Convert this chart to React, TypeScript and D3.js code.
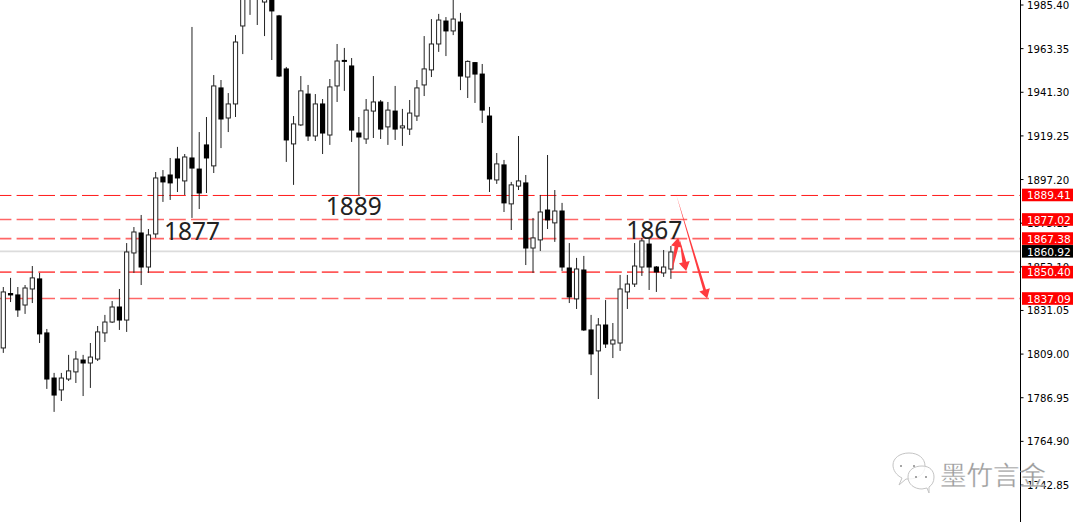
import React from "react";
import * as d3 from "d3";

const opens = [1812.1,1839.6,1838.9,1833.8,1841.9,1847.0,1819.7,1796.9,1790.9,1796.4,1800.0,1806.0,1804.5,1806.5,1819.7,1825.2,1832.8,1826.2,1860.1,1870.2,1853.0,1869.7,1898.5,1899.5,1907.6,1896.5,1908.1,1902.5,1914.7,1904.1,1943.5,1928.3,1935.4,1974.8,1989.4,1990.0,1986.9,1993.0,1979.9,1953.1,1915.2,1924.8,1940.4,1919.2,1935.4,1919.7,1944.5,1957.4,1954.6,1920.7,1917.7,1931.8,1936.4,1923.8,1931.8,1923.3,1922.7,1929.3,1945.0,1952.6,1965.7,1977.3,1972.3,1976.8,1949.0,1956.3,1950.5,1929.3,1897.0,1904.6,1884.9,1893.9,1895.5,1862.6,1866.7,1881.8,1875.3,1881.3,1852.5,1836.9,1851.5,1821.2,1810.6,1823.7,1814.1,1814.6,1840.4,1844.4,1853.0,1864.6,1853.0,1850.0,1852.0];
const highs = [1842.9,1847.5,1842.9,1843.9,1853.5,1850.0,1821.7,1799.5,1799.5,1808.6,1810.6,1808.6,1814.6,1823.2,1828.8,1835.8,1841.9,1865.1,1873.2,1879.3,1872.2,1901.0,1902.0,1908.1,1913.7,1910.1,1974.3,1921.2,1928.8,1950.0,1947.5,1940.9,1970.2,1992.0,2001.0,2003.0,1994.0,1995.0,1980.4,1954.1,1929.3,1949.5,1945.0,1940.4,1937.9,1948.0,1965.7,1963.7,1958.6,1928.8,1937.9,1949.5,1937.4,1936.4,1944.5,1932.9,1937.4,1947.5,1969.7,1978.3,1980.9,1979.3,1988.9,1981.4,1957.4,1956.6,1955.6,1933.9,1910.6,1907.1,1896.0,1919.2,1899.5,1877.8,1889.4,1909.6,1891.9,1885.4,1865.1,1857.6,1858.6,1828.8,1827.2,1836.3,1824.7,1849.0,1849.0,1865.1,1867.7,1867.2,1853.5,1861.6,1863.6];
const lows = [1809.6,1835.3,1827.8,1829.3,1834.8,1814.6,1791.4,1779.8,1785.3,1795.4,1794.4,1787.8,1791.9,1805.5,1815.1,1824.7,1821.2,1820.2,1850.0,1843.9,1850.0,1867.7,1885.9,1886.9,1890.9,1889.4,1877.8,1882.3,1890.4,1900.5,1913.1,1921.2,1928.8,1960.6,1980.4,1975.3,1969.7,1957.6,1949.0,1906.1,1894.5,1924.3,1916.7,1916.7,1910.1,1914.7,1936.4,1942.0,1916.2,1889.4,1915.2,1918.2,1917.7,1914.7,1917.2,1914.2,1919.7,1926.8,1939.4,1949.0,1961.7,1959.6,1970.2,1942.4,1938.4,1935.9,1925.8,1890.9,1895.0,1880.8,1871.7,1891.9,1854.0,1850.0,1861.1,1872.2,1865.7,1851.0,1834.8,1831.8,1820.7,1798.4,1786.3,1812.1,1807.0,1810.6,1831.8,1842.9,1848.5,1841.4,1840.4,1848.0,1847.0];
const closes = [1840.4,1838.9,1831.3,1842.4,1847.5,1819.2,1796.4,1788.3,1796.9,1800.5,1806.5,1804.5,1807.5,1820.2,1825.2,1832.8,1826.2,1860.6,1870.7,1853.0,1869.2,1898.0,1896.0,1895.5,1898.0,1908.6,1903.0,1890.4,1908.1,1944.5,1927.8,1935.4,1966.7,1989.4,1998.0,2000.0,1992.0,1982.4,1949.5,1917.2,1925.3,1942.0,1919.2,1935.4,1920.7,1944.0,1957.1,1956.9,1922.2,1918.7,1932.3,1936.4,1922.7,1932.3,1922.7,1924.3,1930.8,1943.5,1953.1,1965.7,1977.8,1972.3,1978.3,1949.5,1956.9,1950.5,1932.3,1897.5,1905.1,1885.4,1894.5,1896.5,1862.6,1867.7,1880.8,1876.8,1881.3,1853.0,1837.9,1852.0,1821.2,1809.1,1823.7,1814.1,1816.1,1841.9,1844.4,1853.5,1866.2,1853.0,1850.5,1853.0,1860.6];

const axisTicks = [1985.40,1963.35,1941.30,1919.25,1897.20,1875.15,1853.10,1831.05,1809.00,1786.95,1764.90,1742.85];
const levels = [1889.41,1877.02,1867.38,1850.40,1837.09];
const levelOpacity = [0.9,0.6,0.6,0.65,0.6];
const currentPrice = 1860.92;
const noteLabels = ["1877","1889","1867"];
const noteIndex = [26.0,48.3,89.7];
const notePrice = [1866.6,1879.4,1867.4];
// arrows: [from index, from price] -> [to index, to price]
const arrowFrom = [[92.75,1889.41],[92.1,1850.2],[93.2,1867.2]];
const arrowTo = [[97.0,1837.1],[93.0,1867.8],[94.1,1851.0]];
const arrowWidths = [2.8,4,4];

const W = 1080, H = 522, AXIS_X = 1020.5;
const x = d3.scaleLinear().domain([0, 92]).range([3.3, 670.9]);
const y = d3.scaleLinear().domain([1985.40, 1742.85]).range([5, 485]);
const RED = "#ff0000";
const AXIS_FONT = "'DejaVu Sans', sans-serif";

function Arrow({ i }: { i: number }) {
  const [x0, y0] = [x(arrowFrom[i][0]), y(arrowFrom[i][1])];
  const [x1, y1] = [x(arrowTo[i][0]), y(arrowTo[i][1])];
  const a = Math.atan2(y1 - y0, x1 - x0);
  const w = arrowWidths[i];
  const nx = -Math.sin(a), ny = Math.cos(a), ux = Math.cos(a), uy = Math.sin(a);
  const hl = 9, hw = 5.5;
  const bx = x1 - ux * hl, by = y1 - uy * hl;
  const pts = [
    [x0, y0],
    [bx + nx * w / 2, by + ny * w / 2],
    [bx + nx * hw, by + ny * hw],
    [x1, y1],
    [bx - nx * hw, by - ny * hw],
    [bx - nx * w / 2, by - ny * w / 2],
  ];
  return <polygon points={pts.map((p) => p.join(",")).join(" ")} fill="#ff3b3f" />;
}

function Watermark() {
  const stroke = "#c4c4c4";
  return (
    <g transform="translate(0,3)">
      <g fill="#fff" fillOpacity={0.8} stroke={stroke} strokeWidth={1}>
        <path d="M899 482 L902 475 C896 472 893 467 893 462 C893 455 900 450 909 450 C918 450 925 455 925 463 C925 471 918 476 909 476 L906 476 Z" />
        <path d="M929 490 L927 485 L922 486 C914 486 908 481 908 474 C908 467 914 463 922 463 C930 463 934 468 934 474 C934 479 932 482 929 484 Z" />
      </g>
      <g fill="#888">
        <circle cx={901} cy={463} r={1} /><circle cx={914} cy={463} r={1} />
        <circle cx={916} cy={474} r={1} /><circle cx={926} cy={474} r={1} />
      </g>
      <text x={940} y={482} fontFamily="'Noto Sans CJK SC', sans-serif" fontSize={26.5} fill="#8a8a8a" fillOpacity={0.85} stroke="#fff" strokeWidth={0.3}>墨竹言金</text>
    </g>
  );
}

export default function App() {
  const tag = (v: number, bg: string, key: string) => (
    <g key={key}>
      <rect x={1022} y={y(v) - 6.3} width={51} height={12.6} fill={bg} />
      <text x={1027} y={y(v) + 4.2} fontFamily={AXIS_FONT} fontSize={10.6} fill="#fff">{v.toFixed(2)}</text>
    </g>
  );
  return (
    <svg width={W} height={H} viewBox={`0 0 ${W} ${H}`} style={{ position: "absolute", left: 0, top: 0, background: "#fff" }}>
      <line x1={0} x2={AXIS_X} y1={y(currentPrice)} y2={y(currentPrice)} stroke="#dcdcdc" strokeWidth={1.6} />
      {levels.map((v, i) => (
        <line key={v} x1={0} x2={AXIS_X} y1={y(v) + (i === 0 ? 0.5 : 0)} y2={y(v) + (i === 0 ? 0.5 : 0)} stroke={RED} strokeOpacity={levelOpacity[i]}
          strokeWidth={i === 0 ? 1 : 1.7} strokeDasharray="16.6 5.2" strokeDashoffset={5.2} />
      ))}
      {opens.map((o, i) => {
        const c = closes[i];
        const cx = x(i);
        const top = y(Math.max(o, c));
        const bottom = y(Math.min(o, c));
        const up = c >= o;
        return (
          <g key={i}>
            <line x1={cx} x2={cx} y1={y(highs[i])} y2={y(lows[i])} stroke="#222" strokeWidth={1} />
            {up ? (
              <rect x={cx - 2.1} y={top} width={4.2} height={Math.max(bottom - top, 1)} fill="#fff" stroke="#222" strokeWidth={1} />
            ) : (
              <rect x={cx - 2.6} y={top - 0.5} width={5.2} height={Math.max(bottom - top + 1, 1.2)} fill="#000" />
            )}
          </g>
        );
      })}
      {noteLabels.map((t, i) => (
        <text key={t} x={x(noteIndex[i])} y={y(notePrice[i])} fontFamily="'Noto Sans', sans-serif" fontSize={24.5} fill="#222" textAnchor="middle">{t}</text>
      ))}
      {arrowFrom.map((_, i) => <Arrow key={i} i={i} />)}
      <line x1={AXIS_X} x2={AXIS_X} y1={0} y2={H} stroke="#000" strokeWidth={1} />
      {axisTicks.map((v) => (
        <g key={v}>
          <line x1={AXIS_X} x2={AXIS_X + 3} y1={y(v)} y2={y(v)} stroke="#000" />
          <text x={1027} y={y(v) + 4} fontFamily={AXIS_FONT} fontSize={10.2} fill="#000">{v.toFixed(2)}</text>
        </g>
      ))}
      {levels.map((v) => tag(v, RED, `t${v}`))}
      {tag(currentPrice, "#000", "cur")}
      <Watermark />
    </svg>
  );
}
